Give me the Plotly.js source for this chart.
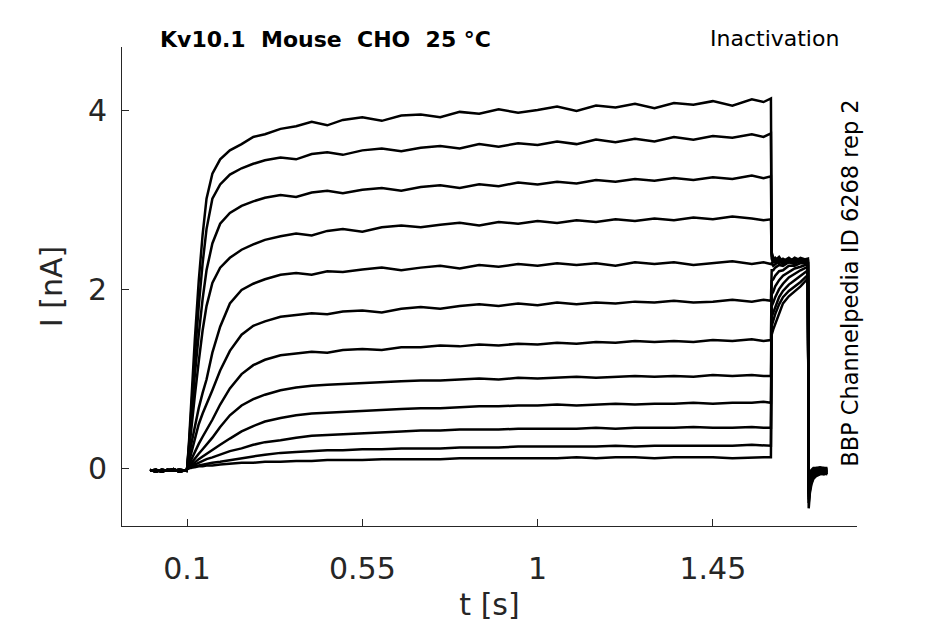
<!DOCTYPE html>
<html>
<head>
<meta charset="utf-8">
<script src="https://cdn.plot.ly/plotly-3.0.1.min.js"></script>
<style>
  html, body { margin: 0; padding: 0; background: #fff; }
  #chart { width: 945px; height: 624px; }
</style>
</head>
<body>
<div id="chart"></div>
<script>
"use strict";

// time bases (s)
const tBase = [0.005, 0.02, 0.035, 0.05, 0.065, 0.08, 0.099];
const tPulse = [0.100, 0.105, 0.110, 0.115, 0.120, 0.130, 0.140, 0.150, 0.165, 0.185,
                0.21, 0.24, 0.27, 0.30, 0.34, 0.38, 0.42, 0.46, 0.50, 0.55,
                0.60, 0.65, 0.70, 0.75, 0.80, 0.85, 0.90, 0.95, 1.00, 1.05,
                1.10, 1.15, 1.20, 1.25, 1.30, 1.35, 1.40, 1.45, 1.50, 1.55,
                1.58, 1.599];
const tTail = [1.601, 1.605, 1.61, 1.62, 1.63, 1.645, 1.66, 1.675, 1.694];
const tPost = [1.696, 1.699, 1.703, 1.708, 1.715, 1.725, 1.735, 1.744];

// holding current before the step (nA), two overlapping bands
const baseA = [-0.02, -0.01, -0.03, -0.01, -0.02, -0.01, -0.02];
const baseB = [-0.01, -0.03, -0.01, -0.02, 0.00, -0.03, -0.01];

// current during the conditioning step, one row per sweep (nA)
const pulseI = [
  [0.00, 0.30, 0.70, 1.08, 1.45, 2.10, 2.62, 3.02, 3.30, 3.46, 3.56, 3.63, 3.71, 3.74, 3.80, 3.83, 3.88, 3.84, 3.90, 3.93, 3.89, 3.95, 3.96, 3.93, 3.99, 3.97, 4.02, 3.98, 4.01, 4.05, 4.00, 4.06, 4.04, 4.08, 4.03, 4.09, 4.07, 4.11, 4.06, 4.13, 4.10, 4.14],
  [0.00, 0.27, 0.62, 0.95, 1.25, 1.82, 2.30, 2.68, 3.02, 3.18, 3.29, 3.36, 3.41, 3.45, 3.48, 3.46, 3.52, 3.54, 3.51, 3.56, 3.58, 3.55, 3.59, 3.61, 3.58, 3.63, 3.60, 3.64, 3.62, 3.66, 3.63, 3.68, 3.65, 3.69, 3.66, 3.71, 3.68, 3.72, 3.70, 3.74, 3.71, 3.75],
  [0.00, 0.24, 0.54, 0.80, 1.05, 1.50, 1.90, 2.22, 2.52, 2.74, 2.86, 2.94, 2.99, 3.03, 3.06, 3.04, 3.09, 3.11, 3.08, 3.12, 3.14, 3.11, 3.15, 3.17, 3.14, 3.18, 3.16, 3.20, 3.18, 3.21, 3.19, 3.23, 3.21, 3.24, 3.22, 3.25, 3.23, 3.26, 3.24, 3.28, 3.25, 3.27],
  [0.00, 0.20, 0.42, 0.62, 0.82, 1.20, 1.55, 1.82, 2.08, 2.25, 2.36, 2.45, 2.51, 2.56, 2.60, 2.63, 2.61, 2.66, 2.68, 2.65, 2.70, 2.72, 2.70, 2.73, 2.75, 2.72, 2.76, 2.74, 2.77, 2.75, 2.78, 2.76, 2.79, 2.77, 2.80, 2.78, 2.81, 2.79, 2.82, 2.80, 2.78, 2.79],
  [0.00, 0.12, 0.26, 0.37, 0.48, 0.68, 0.85, 1.00, 1.30, 1.59, 1.85, 2.00, 2.07, 2.12, 2.17, 2.19, 2.17, 2.21, 2.20, 2.23, 2.25, 2.22, 2.25, 2.27, 2.24, 2.28, 2.26, 2.29, 2.27, 2.30, 2.28, 2.30, 2.27, 2.31, 2.29, 2.31, 2.28, 2.30, 2.32, 2.29, 2.31, 2.29],
  [0.00, 0.08, 0.17, 0.26, 0.35, 0.50, 0.62, 0.72, 0.88, 1.10, 1.32, 1.50, 1.60, 1.65, 1.70, 1.72, 1.74, 1.73, 1.76, 1.77, 1.75, 1.79, 1.81, 1.79, 1.82, 1.84, 1.82, 1.85, 1.83, 1.86, 1.84, 1.86, 1.85, 1.87, 1.86, 1.88, 1.86, 1.87, 1.89, 1.87, 1.89, 1.88],
  [0.00, 0.05, 0.10, 0.15, 0.20, 0.28, 0.36, 0.43, 0.55, 0.72, 0.90, 1.06, 1.16, 1.22, 1.27, 1.29, 1.31, 1.30, 1.33, 1.34, 1.33, 1.36, 1.36, 1.38, 1.37, 1.39, 1.38, 1.40, 1.39, 1.41, 1.40, 1.42, 1.41, 1.43, 1.42, 1.43, 1.42, 1.44, 1.43, 1.45, 1.43, 1.44],
  [0.00, 0.03, 0.06, 0.09, 0.12, 0.17, 0.22, 0.27, 0.35, 0.47, 0.60, 0.71, 0.78, 0.83, 0.88, 0.91, 0.93, 0.94, 0.95, 0.96, 0.97, 0.98, 0.99, 0.99, 1.00, 1.01, 1.00, 1.02, 1.01, 1.02, 1.03, 1.02, 1.03, 1.04, 1.03, 1.04, 1.03, 1.05, 1.04, 1.05, 1.04, 1.04],
  [0.00, 0.02, 0.04, 0.06, 0.08, 0.11, 0.14, 0.17, 0.21, 0.27, 0.34, 0.42, 0.48, 0.53, 0.57, 0.60, 0.62, 0.63, 0.64, 0.65, 0.66, 0.67, 0.68, 0.68, 0.69, 0.70, 0.70, 0.71, 0.71, 0.72, 0.71, 0.72, 0.73, 0.72, 0.73, 0.73, 0.74, 0.73, 0.74, 0.74, 0.75, 0.74],
  [0.00, 0.01, 0.03, 0.04, 0.05, 0.07, 0.09, 0.11, 0.13, 0.16, 0.20, 0.23, 0.27, 0.30, 0.32, 0.35, 0.37, 0.38, 0.39, 0.40, 0.41, 0.42, 0.43, 0.43, 0.44, 0.44, 0.44, 0.45, 0.45, 0.45, 0.45, 0.46, 0.45, 0.46, 0.46, 0.46, 0.47, 0.46, 0.46, 0.47, 0.46, 0.46],
  [0.00, 0.01, 0.02, 0.02, 0.03, 0.04, 0.05, 0.06, 0.07, 0.08, 0.10, 0.12, 0.14, 0.16, 0.18, 0.19, 0.20, 0.21, 0.21, 0.22, 0.22, 0.23, 0.23, 0.23, 0.24, 0.24, 0.24, 0.25, 0.25, 0.25, 0.25, 0.25, 0.26, 0.25, 0.26, 0.26, 0.26, 0.26, 0.26, 0.27, 0.26, 0.26],
  [0.00, 0.01, 0.01, 0.02, 0.02, 0.03, 0.03, 0.04, 0.04, 0.05, 0.06, 0.07, 0.07, 0.08, 0.08, 0.09, 0.09, 0.10, 0.10, 0.10, 0.11, 0.11, 0.11, 0.11, 0.12, 0.12, 0.12, 0.12, 0.12, 0.12, 0.13, 0.12, 0.13, 0.13, 0.12, 0.13, 0.13, 0.13, 0.12, 0.13, 0.13, 0.13]
];

// current during the test step
const tailI = [
  [2.42, 2.36, 2.33, 2.37, 2.31, 2.35, 2.32, 2.36, 2.33],
  [2.40, 2.34, 2.36, 2.32, 2.35, 2.31, 2.36, 2.33, 2.35],
  [2.38, 2.33, 2.31, 2.35, 2.32, 2.36, 2.31, 2.34, 2.32],
  [2.35, 2.30, 2.33, 2.30, 2.34, 2.31, 2.35, 2.31, 2.33],
  [2.30, 2.27, 2.29, 2.32, 2.29, 2.33, 2.30, 2.34, 2.31],
  [2.22, 2.22, 2.25, 2.28, 2.27, 2.31, 2.29, 2.33, 2.30],
  [2.10, 2.12, 2.16, 2.21, 2.22, 2.27, 2.27, 2.30, 2.30],
  [1.95, 1.98, 2.04, 2.11, 2.16, 2.20, 2.24, 2.26, 2.29],
  [1.82, 1.86, 1.92, 2.01, 2.07, 2.14, 2.18, 2.22, 2.26],
  [1.70, 1.75, 1.82, 1.92, 1.99, 2.06, 2.11, 2.16, 2.22],
  [1.60, 1.66, 1.73, 1.84, 1.92, 1.99, 2.04, 2.09, 2.17],
  [1.50, 1.56, 1.62, 1.75, 1.85, 1.93, 1.98, 2.04, 2.13]
];

// current after return to holding
const postI = [
  [-0.44, -0.27, -0.17, -0.11, -0.08, -0.06, -0.05, -0.06],
  [-0.38, -0.24, -0.15, -0.10, -0.07, -0.05, -0.06, -0.04],
  [-0.34, -0.21, -0.13, -0.08, -0.06, -0.04, -0.05, -0.04],
  [-0.31, -0.19, -0.12, -0.07, -0.05, -0.04, -0.03, -0.04],
  [-0.28, -0.17, -0.10, -0.06, -0.04, -0.03, -0.04, -0.03],
  [-0.26, -0.15, -0.09, -0.05, -0.04, -0.03, -0.02, -0.03],
  [-0.24, -0.13, -0.07, -0.04, -0.03, -0.02, -0.03, -0.02],
  [-0.22, -0.11, -0.06, -0.03, -0.02, -0.02, -0.01, -0.02],
  [-0.20, -0.09, -0.04, -0.02, -0.01, -0.01, -0.02, -0.01],
  [-0.18, -0.08, -0.03, -0.01, 0.00, -0.01, 0.00, -0.01],
  [-0.16, -0.06, -0.02, 0.00, 0.01, 0.00, 0.01, 0.00],
  [-0.14, -0.05, -0.01, 0.01, 0.01, 0.02, 0.01, 0.01]
];

const xTicks = [0.1, 0.55, 1, 1.45];
const yTicks = [0, 2, 4];

const axisColor = '#262626';
const fontFamily = '"DejaVu Sans", "Liberation Sans", sans-serif';

const tAll = tBase.concat(tPulse, tTail, tPost);
const traces = pulseI.map((p, k) => ({
    x: tAll,
    y: (k % 2 ? baseB : baseA).concat(p, tailI[k], postI[k]),
    type: 'scatter',
    mode: 'lines',
    line: { color: '#000000', width: 2.5 },
    hoverinfo: 'skip',
    showlegend: false
}));

const layout = {
    width: 945,
    height: 624,
    margin: { l: 122, r: 88, t: 47, b: 98 },
    paper_bgcolor: '#ffffff',
    plot_bgcolor: '#ffffff',
    font: { family: fontFamily, color: axisColor },
    xaxis: {
        range: [-0.067, 1.82],
        tickvals: xTicks,
        ticktext: xTicks.map(String),
        ticks: 'inside',
        ticklen: 7,
        tickcolor: axisColor,
        tickfont: { size: 30, color: axisColor },
        ticklabelstandoff: 16,
        showgrid: false,
        zeroline: false,
        showline: true,
        linecolor: axisColor,
        linewidth: 1,
        automargin: false,
        title: { text: 't [s]', font: { size: 30, color: axisColor }, standoff: 8 }
    },
    yaxis: {
        range: [-0.637, 4.715],
        tickvals: yTicks,
        ticks: 'inside',
        ticklen: 7,
        tickcolor: axisColor,
        tickfont: { size: 30, color: axisColor },
        ticklabelstandoff: 8,
        showgrid: false,
        zeroline: false,
        showline: true,
        linecolor: axisColor,
        linewidth: 1,
        automargin: false,
        title: { text: 'I [nA]', font: { size: 30, color: axisColor }, standoff: 16 }
    },
    annotations: [
        {
            text: '<b>Kv10.1\u00a0\u00a0Mouse\u00a0\u00a0CHO\u00a0\u00a025 °C</b>',
            xref: 'paper', yref: 'paper', x: 0.049, y: 1.015,
            xanchor: 'left', yanchor: 'middle', showarrow: false,
            font: { size: 22, color: '#000000' }
        },
        {
            text: 'Inactivation',
            xref: 'paper', yref: 'paper', x: 0.978, y: 1.017,
            xanchor: 'right', yanchor: 'middle', showarrow: false,
            font: { size: 22, color: '#000000' }
        },
        {
            text: 'BBP Channelpedia ID 6268 rep 2',
            xref: 'paper', yref: 'paper', x: 0.99, y: 0.507,
            xanchor: 'center', yanchor: 'middle', textangle: -90, showarrow: false,
            font: { size: 22.5, color: '#000000' }
        }
    ]
};

Plotly.newPlot('chart', traces, layout, { staticPlot: true, displayModeBar: false });
</script>
</body>
</html>
